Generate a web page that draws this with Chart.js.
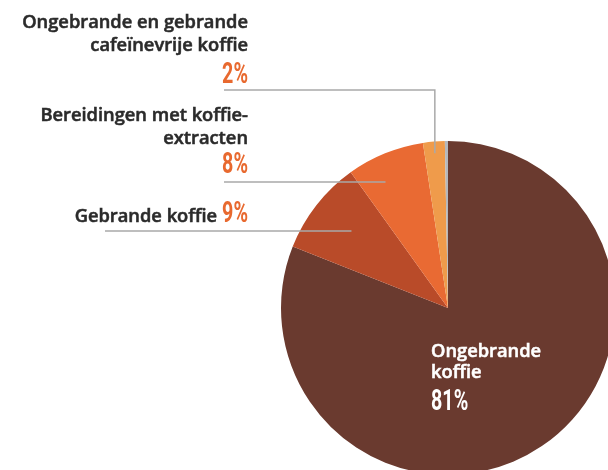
<!DOCTYPE html>
<html>
<head>
<meta charset="utf-8">
<script src="https://cdn.jsdelivr.net/npm/chart.js@4"></script>
<style>
  html, body { margin: 0; padding: 0; background: #fff; overflow: hidden; width: 608px; height: 470px; }
  #wrap { position: absolute; left: 0; top: 0; width: 620px; height: 480px; }
</style>
</head>
<body>
<div id="wrap"><canvas id="pie" width="620" height="480"></canvas></div>
<script>
// slices, clockwise from 12 o'clock
const categories = ['Ongebrande koffie', 'Gebrande koffie', 'Bereidingen met koffie-extracten', 'Ongebrande en gebrande cafeïnevrije koffie', 'Overig'];
const shares = [81.0, 9.1, 7.5, 2.1, 0.3];
const shareLabels = ['81%', '9%', '8%', '2%', ''];
const labelLines = [['Ongebrande', 'koffie'], ['Gebrande koffie'], ['Bereidingen met koffie-', 'extracten'], ['Ongebrande en gebrande', 'cafeïnevrije koffie'], []];
const colors = ['#6a3a2f', '#b94b29', '#e96a33', '#ef9b4b', '#b4b8bd'];

// where each label sits (layout only)
const labelLayout = [
  { inside: true, x: 431, y: 357 },
  { x: 248, y: 222, inline: true, lineY: 231, lineX: 105, t: 0.52, k: 0.74 },
  { x: 248, y: 121, pctY: 173, lineY: 182, lineX: 224, t: 0.34, k: 0.84 },
  { x: 248, y: 28, pctY: 83, lineY: 90, lineX: 224, t: 0.5, k: 0.93, vertical: true },
  null
];

const textFont = '600 18.3px "Open Sans"';
const pctColor = '#e8692f';

// semibold look: fill plus a hairline stroke
function boldText(ctx, txt, x, y, color) {
  ctx.fillStyle = color;
  ctx.strokeStyle = color;
  ctx.lineWidth = 0.55;
  ctx.fillText(txt, x, y);
  ctx.strokeText(txt, x, y);
}

function drawPct(ctx, txt, x, y, align, color) {
  ctx.save();
  ctx.font = 'bold 29px Roboto';
  ctx.fillStyle = color;
  ctx.textBaseline = 'alphabetic';
  ctx.textAlign = 'left';
  const sx = 0.68;
  const w = ctx.measureText(txt).width * sx;
  const left = align === 'right' ? x - w : x;
  ctx.translate(left, y);
  ctx.scale(sx, 1);
  ctx.fillText(txt, 0, 0);
  ctx.restore();
  return w;
}

const labelPlugin = {
  id: 'labels',
  afterDraw(chart) {
    const ctx = chart.ctx;
    const arcs = chart.getDatasetMeta(0).data;
    labelLayout.forEach((lay, i) => {
      if (!lay) return;
      const arc = arcs[i];
      const p = arc.getProps(['x', 'y', 'startAngle', 'endAngle', 'outerRadius'], true);
      ctx.save();
      if (lay.inside) {
        ctx.font = textFont;
        ctx.textAlign = 'left';
        labelLines[i].forEach((ln, j) => boldText(ctx, ln, lay.x, lay.y + j * 20.5, '#ffffff'));
        drawPct(ctx, shareLabels[i], lay.x, lay.y + 53, 'left', '#ffffff');
        ctx.restore();
        return;
      }
      // leader line
      const a = p.startAngle + (p.endAngle - p.startAngle) * lay.t;
      const ex = p.x + Math.cos(a) * p.outerRadius * lay.k;
      const ey = p.y + Math.sin(a) * p.outerRadius * lay.k;
      ctx.strokeStyle = '#a9a9a9';
      ctx.lineWidth = 1.5;
      ctx.beginPath();
      if (lay.vertical) {
        ctx.moveTo(lay.lineX, lay.lineY);
        ctx.lineTo(ex, lay.lineY);
        ctx.lineTo(ex, ey);
      } else {
        ctx.moveTo(lay.lineX, lay.lineY);
        ctx.lineTo(ex, lay.lineY);
      }
      ctx.stroke();

      ctx.font = textFont;
      ctx.textAlign = 'right';
      if (lay.inline) {
        const w = drawPct(ctx, shareLabels[i], lay.x, lay.y, 'right', pctColor);
        ctx.font = textFont;
        ctx.textAlign = 'right';
        boldText(ctx, labelLines[i][0], lay.x - w - 5, lay.y, '#2b2b2b');
      } else {
        labelLines[i].forEach((ln, j) => boldText(ctx, ln, lay.x, lay.y + j * 22.5, '#2b2b2b'));
        drawPct(ctx, shareLabels[i], lay.x, lay.pctY, 'right', pctColor);
      }
      ctx.restore();
    });
  }
};

new Chart(document.getElementById('pie').getContext('2d'), {
  type: 'pie',
  data: {
    labels: categories,
    datasets: [{
      data: shares,
      backgroundColor: colors,
      borderWidth: 0,
      hoverOffset: 0,
      offset: 0
    }]
  },
  options: {
    responsive: false,
    animation: false,
    events: [],
    layout: { padding: { left: 281, top: 141, right: 5, bottom: 5 } },
    plugins: {
      legend: { display: false },
      tooltip: { enabled: false }
    }
  },
  plugins: [labelPlugin]
});
</script>
</body>
</html>
